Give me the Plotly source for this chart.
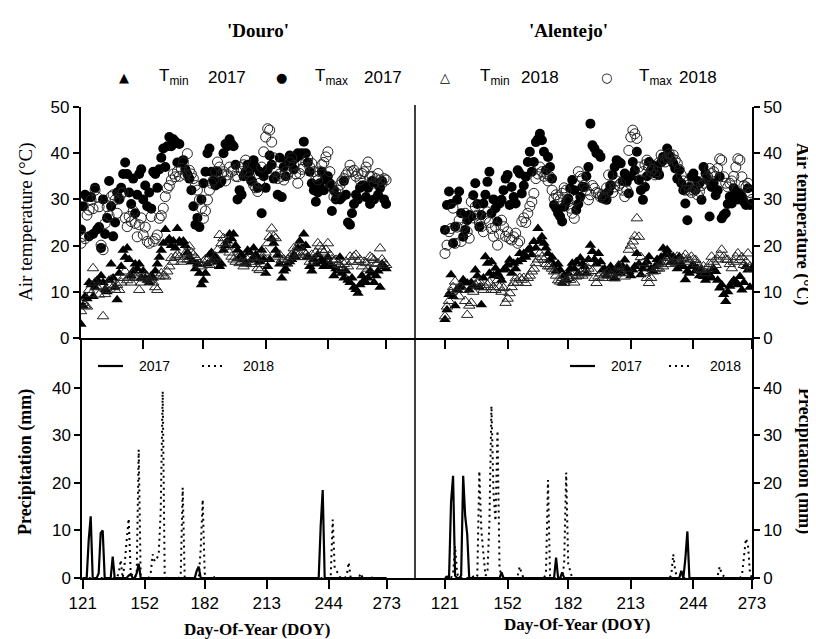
import plotly.graph_objects as go

# The page body has an 8px margin, so the figure is drawn 8px in from the corner.
OFF = 8
W, H = 816 - OFF, 639 - OFF

# ---------------- data ----------------
doy = list(range(121, 274))  # Day-of-year 121..273
xticks = [121, 152, 182, 213, 244, 273]
xtick_text = ["121", "152", "182", "213", "244", "273"]

douro_tmin_2017 = [
    3, 7, 9, 8.5, 12, 11.5, 9, 11, 12.5, 12,
    13.5, 12, 10.5, 10, 12.5, 16, 13, 11, 8.3, 14,
    15.5, 19, 17.5, 19.5, 17, 13.5, 14.5, 16, 15, 16,
    13, 14.5, 13, 12.5, 12, 13.5, 13, 14.5, 16, 17.5,
    19, 20.5, 23.5, 21, 21.5, 20, 21, 19.5, 23.7, 21,
    20.5, 21, 20, 18.5, 17.5, 16.5, 16.5, 15, 16, 14,
    11.5, 12.5, 14, 16, 18, 18.5, 17, 17.5, 16.5, 15.5,
    16, 19, 20, 21, 22.5, 21.5, 22.5, 20, 19, 17.5,
    18, 17, 16, 19, 18.5, 17, 19.5, 18, 17.5, 16.5,
    19, 17, 14, 15.5, 17, 21.5, 20.5, 19, 18, 16,
    13, 14.5, 15, 16, 16.5, 17, 18, 17.5, 19.5, 21,
    19.5, 22.5, 20, 17.5, 15.5, 14.5, 17, 16, 18, 16.5,
    17, 15.5, 16, 17.5, 16, 15.5, 13.5, 15, 14.5, 17.5,
    14, 13, 14.5, 12.5, 12, 13, 11, 10.5, 9.7, 11.5,
    13.5, 12.5, 12, 13, 14.5, 14, 12, 13.5, 14.5, 11,
    16, 15.5, 15,
]
douro_tmax_2017 = [
    23.5, 28.5, 31, 30.5, 22, 30.5, 22.5, 32.5, 23.5, 24,
    19.5, 30, 22.5, 26, 34, 28.5, 22, 25, 31.5, 30,
    32.5, 35.5, 38, 35.5, 31.5, 29, 34.5, 27, 31, 35.5,
    36.5, 30, 33, 28.5, 31.5, 28, 36, 35.5, 32.5, 36.5,
    39, 41, 37, 41.5, 43.5, 41.5, 43, 42.5, 38, 42,
    38, 38.5, 36.5, 35.5, 34.5, 32, 28.5, 24.5, 26, 24,
    30, 33.5, 36, 40, 41, 36, 34, 33, 36, 33.5,
    34, 40, 42, 41.5, 43, 42, 41.5, 37.5, 30, 32,
    31, 35, 36, 37.5, 36, 34, 38.5, 37, 32.5, 36,
    27, 35, 32.5, 36.5, 39.5, 37.5, 34.5, 35, 31, 39,
    30.5, 37, 35, 38.5, 39.5, 38, 36.5, 39, 40, 39.5,
    40, 42.5, 40, 38, 36, 33.5, 32, 29.5, 31.5, 33.5,
    36, 32, 34.5, 35, 33.5, 27.5, 32, 30, 30.5, 30,
    30.5, 34, 31, 25, 24.5, 27, 29, 31, 30, 32.5,
    33, 33, 30.5, 32.5, 29, 34, 30, 33.5, 31, 32.5,
    34, 30, 29,
]
douro_tmin_2018 = [
    5.8, 7.6, 7, 6.8, 10.4, 9.5, 15.1, 12, 11, 9.4,
    11.2, 4.7, 9.5, 10.4, 11.5, 12.6, 11, 10.4, 11.5, 10.4,
    12, 13, 14.4, 12.5, 13.3, 12, 14, 13, 13.3, 10.4,
    12, 12.9, 13.5, 13.3, 12.5, 12.9, 12, 11, 10.4, 13.3,
    14, 13.5, 13.3, 14.4, 15.5, 17.3, 16.5, 17.6, 18, 17.6,
    16.5, 17, 18.3, 17, 19.8, 18.5, 18, 17.5, 16.9, 16,
    15.5, 16.5, 17, 16.9, 15.8, 16.5, 17, 17.6, 19, 22.3,
    20.5, 21.6, 20.5, 19.8, 18.5, 17.6, 17, 16.5, 17.3, 16.2,
    16.5, 15.5, 16.2, 16.9, 17.5, 16, 17.3, 16.5, 15.1, 14.7,
    16, 17.3, 18.5, 20.5, 21.9, 23.7, 22, 21.6, 17.6, 18,
    16.9, 17, 16.2, 17, 17.5, 18, 19.4, 18.5, 19.8, 18.3,
    17.5, 18.7, 18, 17.6, 16.5, 18, 17, 18.5, 20.5, 19.8,
    19, 18.5, 19.1, 20.5, 18, 17, 16.5, 16.9, 16, 15.8,
    15, 16, 16.5, 15.5, 17.6, 16.5, 17.6, 18, 16.5, 16.9,
    15.5, 16.5, 16.2, 15, 17.6, 17.3, 16.9, 16, 16.2, 19.4,
    17, 16.2, 15.8,
]
douro_tmax_2018 = [
    20.5, 22, 21.5, 26.6, 27.7, 29.9, 28, 32, 30.5, 28.4,
    20.1, 19.1, 24.8, 28.4, 26.5, 30.6, 31, 29.9, 27, 30.2,
    31.3, 31.5, 26, 24.1, 26.3, 25.2, 27.5, 24.8, 21.9, 24.5,
    26, 22.3, 24, 20.9, 20.5, 26.3, 20.9, 21.5, 22.3, 25.9,
    26.5, 28.1, 30.6, 32.4, 33, 34.2, 35.5, 34.9, 36, 35,
    36.7, 38, 35.3, 39.9, 36.3, 35.5, 34.5, 33, 32, 29.9,
    28.1, 25.9, 27.5, 29.9, 32, 33.5, 34.2, 36, 38.1, 37,
    35.5, 36, 34, 35.3, 37, 36, 36.3, 35, 34.9, 37,
    36, 37.5, 38.5, 36, 34.9, 34, 33.1, 32.5, 31.7, 33.5,
    37, 40.3, 43.5, 45.3, 45, 42.4, 39, 36, 34.5, 35.5,
    35, 34.2, 36, 35.3, 38.1, 39, 37.4, 35.5, 33.5, 35.6,
    36.5, 37, 38.1, 38.8, 37, 37.8, 36, 35, 34.2, 36,
    37.5, 38, 39.2, 40.3, 36, 33, 30.6, 31.5, 32, 33.1,
    34, 34.5, 35.3, 36, 37.4, 36, 36.3, 35, 35.5, 34.2,
    35.6, 36, 37, 38.1, 34.9, 35, 33.5, 34.5, 35.6, 34.2,
    33.5, 34.5, 34.2,
]

alentejo_tmin_2017 = [
    4, 6.1, 9.4, 13.7, 9, 7, 10.4, 11, 11.2, 12.6,
    12, 11.9, 10.4, 12, 11.2, 14.7, 13.5, 11, 7.2, 13,
    17.6, 16.2, 14, 16.5, 13.5, 15.1, 14, 13.3, 12.5, 14.7,
    15, 15.8, 16.9, 14, 16.2, 15, 16.5, 18.3, 17, 18.3,
    17.5, 19, 19.4, 18, 20.9, 19.5, 23.7, 21, 21.9, 20.5,
    19.5, 18.3, 16.9, 17.5, 15.8, 14.5, 16, 14.7, 11.9, 13.5,
    12.6, 14, 15, 16.2, 15, 16.5, 14, 17.3, 16, 15.5,
    14, 17, 20.1, 18.7, 17, 16, 18.3, 16.5, 14.7, 15,
    13.5, 14.7, 15.5, 14.4, 13, 14.5, 15.8, 14, 15.5, 16.9,
    15, 14.4, 13.5, 14.7, 15.5, 18.3, 16, 13.7, 15, 15.8,
    16.5, 17.6, 15, 14.5, 15.5, 17, 16.2, 17.5, 19.4, 18,
    19.1, 18, 16.5, 17.6, 16.2, 15, 17.6, 16, 15.5, 12.6,
    14.5, 14, 15.5, 15.8, 14.5, 15.1, 13.5, 14.4, 13.3, 12.5,
    14, 13.7, 13, 15, 14.4, 12.5, 10.8, 11.5, 9.4, 7.9,
    10, 11.2, 11.9, 12.5, 12.2, 11.5, 13.3, 10.4, 12, 15.5,
    14.7, 11, 15,
]
alentejo_tmax_2017 = [
    23.4, 28.8, 31.7, 29, 20.5, 24.1, 29.9, 31.7, 27, 21.9,
    23.4, 25.5, 26.6, 26.3, 30.9, 33.5, 29, 24.1, 26.6, 29.1,
    31, 33.8, 36, 27, 30, 28.1, 25.2, 29.1, 29.9, 32,
    34.5, 35.3, 28.8, 32.7, 30.5, 29.1, 36.3, 35.6, 31.3, 33,
    34.9, 38.1, 40.3, 36, 38.1, 42.4, 43, 44.2, 42.8, 40.3,
    36.3, 39.2, 37, 34.5, 28.8, 28.1, 27, 26.3, 25.2, 28.4,
    29.5, 30.2, 32.4, 34.2, 32, 27.7, 29, 30.6, 32.7, 32.7,
    35, 37, 46.4, 41.7, 41, 40, 39.9, 39.2, 30.2, 31,
    29.9, 31.7, 33, 35.3, 37, 38.5, 38.1, 37.8, 34, 35.6,
    33.8, 31.3, 35, 38.1, 36.3, 40.3, 34.2, 32, 29.9, 32.7,
    35, 38.1, 36.3, 37.4, 35.6, 36.5, 35.3, 38, 39.2, 38.8,
    41, 39.5, 38.5, 37.8, 36.7, 34.5, 36.3, 33.5, 32, 29.1,
    25.5, 32.7, 34.9, 35.6, 32, 34, 33.5, 29.9, 37, 35.6,
    34.2, 26.3, 32.7, 33.5, 30.9, 32, 34.9, 25.9, 26.6, 27,
    29, 30.6, 29.1, 32.4, 31.7, 30, 31.3, 30.6, 29.5, 28.8,
    32.4, 28.8, 29.1,
]
alentejo_tmin_2018 = [
    4.7, 6.8, 8, 10, 11, 12.2, 10.5, 9, 11, 10.4,
    8, 5, 7, 7.6, 10, 11.5, 12, 12.2, 11, 10.4,
    11, 11.5, 12, 10.4, 11, 10.4, 12.5, 11, 10, 10.8,
    7.6, 8.5, 9.7, 11, 11.9, 12.9, 12, 13, 12.6, 13,
    11.9, 13, 13.5, 14.4, 15, 16.2, 17, 18.3, 17.5, 16.9,
    16, 15.5, 15.5, 15, 14.4, 13.5, 12.5, 12.2, 13, 11.9,
    12.5, 13, 12.6, 13.5, 12, 13.3, 13.5, 14, 13.5, 14,
    14.4, 15, 16.2, 14.5, 13, 11.9, 13.3, 14, 13, 13.7,
    14, 14.4, 13.5, 13, 12.9, 14, 15.5, 14.5, 14, 13.3,
    15, 19.1, 20, 20.9, 22, 25.9, 21.9, 17.5, 16.2, 14,
    13, 11.9, 13, 14.4, 14.5, 15.1, 15, 16, 15.5, 16.5,
    17.3, 16.5, 16, 16.5, 17, 17.6, 16.5, 17, 17.3, 18,
    17, 16.5, 17.6, 17, 16.9, 16, 15, 14.7, 15.5, 14,
    15, 16, 17.6, 16.5, 15.8, 17, 18, 19.1, 17.6, 17,
    16.9, 16, 15.1, 16.5, 17.5, 18.3, 16.9, 17.5, 15.8, 16.5,
    18.3, 15.5, 15,
]
alentejo_tmax_2018 = [
    18.3, 20.1, 23, 23.7, 28.1, 20.5, 24, 25.5, 20.9, 24,
    27, 23, 21.6, 29.5, 26, 28.4, 26.6, 25, 24.1, 23,
    25.9, 27.3, 25, 23.7, 22, 24.1, 20.1, 22.5, 25.5, 24.1,
    22, 23, 21.5, 21.2, 21.9, 22.7, 20.5, 21, 25.2, 26,
    25, 27, 28.5, 29.5, 31.3, 34.5, 35.5, 37, 36, 35,
    35.6, 34, 34.9, 32, 30.2, 31, 30.5, 29.9, 31.3, 32.5,
    32, 29.5, 28.1, 27, 25.9, 30, 36, 35, 34.5, 33,
    32, 29.9, 31, 33, 32.4, 31.5, 31.3, 30.5, 31, 30.2,
    32.5, 35.3, 33, 31.5, 32.7, 34, 33, 33.5, 32, 30.6,
    32, 40.6, 43.5, 45, 44.2, 43.2, 37, 34.2, 36, 37.5,
    38.5, 37, 36, 36.5, 35.3, 36, 38, 39.6, 38.5, 38.1,
    39, 39.9, 39, 39.6, 38.5, 37.8, 36.5, 35.3, 34, 32,
    33, 32, 31.5, 32, 32.7, 31, 31.7, 33, 33.5, 34.5,
    35, 36.7, 35.6, 36, 35, 36.7, 38.8, 38.5, 34.9, 33.5,
    32.7, 33.5, 34, 35, 37, 38.8, 38.5, 34.9, 33, 32.7,
    33.5, 31.5, 30,
]

douro_prec_2017 = [
    0, 0, 0, 8, 13, 0, 0, 0, 1, 9.5,
    10, 0, 0, 0, 0, 4.5, 0, 0, 0, 0,
    0, 0, 0, 0.5, 0.8, 0, 0, 1, 3, 0,
    0, 0, 0, 0, 0, 0, 0, 0, 0, 0,
    0, 0, 0, 0, 0, 0, 0, 0, 0, 0,
    0, 0, 0, 0, 0, 0, 0, 1.5, 2.4, 0,
    0, 0, 0, 0, 0, 0, 0, 0, 0, 0,
    0, 0, 0, 0, 0, 0, 0, 0, 0, 0,
    0, 0, 0, 0, 0, 0, 0, 0, 0, 0,
    0, 0, 0, 0, 0, 0, 0, 0, 0, 0,
    0, 0, 0, 0, 0, 0, 0, 0, 0, 0,
    0, 0, 0, 0, 0, 0, 0, 0, 0, 11,
    18.5, 0, 0, 0, 0, 0, 0, 0, 0, 0,
    0, 0, 0, 0, 0, 0, 0, 0, 0, 0,
    0, 0, 0, 0, 0, 0, 0, 0, 0, 0,
    0, 0, 0,
]
douro_prec_2018 = [
    0, 0, 0, 0, 0, 0, 0, 0, 0, 0,
    0, 0, 0, 0, 0, 0, 0, 0, 1, 3.8,
    0, 3, 8, 12.5, 1, 0.5, 0, 1, 27, 0,
    0, 0, 0, 0, 1, 5, 3.5, 4, 5, 14,
    39.3, 0.5, 0, 0, 0, 0, 0, 0, 0, 0.5,
    19, 0, 0, 0, 0, 0, 0, 0, 0, 6,
    16.5, 1, 0, 0, 0, 0, 0.2, 0, 0, 0,
    0, 0, 0, 0, 0, 0, 0, 0, 0, 0,
    0, 0, 0, 0, 0, 0, 0, 0, 0, 0,
    0, 0, 0, 0, 0, 0, 0, 0, 0, 0,
    0, 0, 0, 0, 0, 0, 0, 0, 0, 0,
    0, 0, 0, 0, 0, 0, 0, 0, 0, 0,
    0, 0, 0, 0, 0.3, 12.3, 2, 1.5, 0.5, 0,
    0, 0, 0.5, 3.3, 0, 0, 0, 0, 0, 1,
    0, 0, 0, 0, 0.3, 0, 0, 0, 0, 0,
    0, 0, 0,
]
alentejo_prec_2017 = [
    0, 0.3, 0, 16, 21.5, 0.5, 0, 0, 0.5, 21.5,
    13, 9.2, 0, 0, 0, 0, 0, 0, 0, 0,
    0, 0, 0, 0, 0, 0, 0, 0, 1.2, 0,
    0, 0, 0, 0, 0, 0, 0, 0, 0, 0,
    0, 0, 0, 0, 0, 0, 0, 0, 0, 0,
    0, 0, 0, 0, 0, 4.3, 0, 0, 1.2, 0,
    0, 0, 0, 0, 0, 0, 0, 0, 0, 0,
    0, 0, 0, 0, 0, 0, 0, 0, 0, 0,
    0, 0, 0, 0, 0, 0, 0, 0, 0, 0,
    0, 0, 0, 0, 0, 0, 0, 0, 0, 0,
    0, 0, 0, 0, 0, 0, 0, 0, 0, 0,
    0, 0, 0, 0, 0, 0, 0, 1.5, 0, 4,
    9.8, 0, 0, 0, 0, 0, 0, 0, 0, 0,
    0, 0, 0, 0, 0, 0, 0, 0, 0, 0,
    0, 0, 0, 0, 0, 0, 0, 0, 0, 0,
    0, 0, 0,
]
alentejo_prec_2018 = [
    0, 0, 0, 0, 1, 6.7, 1, 0, 0, 0,
    0, 0, 0, 0, 0.3, 0, 0.5, 22.5, 10, 5,
    0.5, 1, 12, 36.2, 18, 12, 31, 2, 0.5, 0,
    0, 0, 0, 0, 0, 0, 0.5, 2.4, 0.8, 0,
    0, 0, 0, 0, 0, 0, 0, 0, 0, 0,
    1, 20.6, 0.5, 0, 0, 0, 0, 0, 0, 3,
    22.2, 3, 1.5, 0, 0, 0, 0, 0, 0, 0,
    0, 0, 0, 0, 0, 0, 0, 0, 0, 0,
    0, 0, 0, 0, 0, 0, 0, 0, 0, 0,
    0, 0, 0, 0, 0, 0, 0, 0, 0, 0,
    0, 0, 0, 0, 0, 0, 0, 0, 0, 0,
    0, 0, 0.5, 5, 1.5, 0, 0, 0, 0, 0,
    0, 0, 0, 0, 0, 0, 0, 0, 0, 0,
    0, 0, 0, 0, 0, 0.5, 2.4, 0.8, 0.3, 0,
    0, 0, 0, 0, 0, 0, 0, 0.5, 4, 8.3,
    7, 1, 0,
]

# ---------------- helpers (page pixel -> paper fraction) ----------------
def px(x):
    return (x - OFF) / W


def py(y):
    return 1 - (y - OFF) / H


SANS = "Liberation Sans, Arial, sans-serif"
SERIF = "Liberation Serif, Times New Roman, serif"

fig = go.Figure()

def temp_traces(tmin17, tmax17, tmin18, tmax18, xa, ya):
    fig.add_trace(go.Scatter(x=doy, y=tmin17, mode="markers", xaxis=xa, yaxis=ya,
                             marker=dict(symbol="triangle-up", size=10, color="black"),
                             showlegend=False))
    fig.add_trace(go.Scatter(x=doy, y=tmax17, mode="markers", xaxis=xa, yaxis=ya,
                             marker=dict(symbol="circle", size=10, color="black"),
                             showlegend=False))
    fig.add_trace(go.Scatter(x=doy, y=tmin18, mode="markers", xaxis=xa, yaxis=ya,
                             marker=dict(symbol="triangle-up-open", size=10, color="#222",
                                         line=dict(width=1)),
                             showlegend=False))
    fig.add_trace(go.Scatter(x=doy, y=tmax18, mode="markers", xaxis=xa, yaxis=ya,
                             marker=dict(symbol="circle-open", size=10, color="#222",
                                         line=dict(width=1)),
                             showlegend=False))


def prec_traces(p17, p18, xa, ya):
    fig.add_trace(go.Scatter(x=doy, y=p18, mode="lines", xaxis=xa, yaxis=ya,
                             line=dict(color="black", width=2, dash="2px,4px"),
                             showlegend=False))
    fig.add_trace(go.Scatter(x=doy, y=p17, mode="lines", xaxis=xa, yaxis=ya,
                             line=dict(color="black", width=2.2),
                             showlegend=False))


temp_traces(douro_tmin_2017, douro_tmax_2017, douro_tmin_2018, douro_tmax_2018, "x", "y")
temp_traces(alentejo_tmin_2017, alentejo_tmax_2017, alentejo_tmin_2018, alentejo_tmax_2018, "x2", "y2")
prec_traces(douro_prec_2017, douro_prec_2018, "x3", "y3")
prec_traces(alentejo_prec_2017, alentejo_prec_2018, "x4", "y4")

axis_common = dict(showgrid=False, zeroline=False, showline=True, linecolor="black",
                   linewidth=1.5, ticks="outside", tickcolor="black", tickwidth=1.5,
                   automargin=False,
                   tickfont=dict(family=SANS, size=17, color="black"))

fig.update_layout(
    width=W, height=H, autosize=False,
    margin=dict(l=0, r=0, t=0, b=0, pad=0, autoexpand=False),
    paper_bgcolor="white", plot_bgcolor="rgba(0,0,0,0)",
    showlegend=False,
    xaxis=dict(domain=[px(80.5), px(415)], range=[120.75, 287.4], anchor="y",
               tickvals=xticks, showticklabels=False, ticklen=9, **axis_common),
    yaxis=dict(domain=[py(338), py(107)], range=[0, 50], anchor="x",
               tickvals=[0, 10, 20, 30, 40, 50], ticklen=6, side="left", **axis_common),
    xaxis2=dict(domain=[px(415), px(752)], range=[106.15, 273], anchor="y2",
                tickvals=xticks, showticklabels=False, ticklen=9, **axis_common),
    yaxis2=dict(domain=[py(338), py(107)], range=[0, 50], anchor="x2",
                tickvals=[0, 10, 20, 30, 40, 50], ticklen=6, side="right", **axis_common),
    xaxis3=dict(domain=[px(82), px(415)], range=[120.65, 287.15], anchor="y3",
                tickvals=xticks, ticktext=xtick_text, ticklen=9, **axis_common),
    yaxis3=dict(domain=[py(578), py(338)], range=[0, 50.5], anchor="x3",
                tickvals=[0, 10, 20, 30, 40], ticklen=6, side="left", **axis_common),
    xaxis4=dict(domain=[px(415), px(752)], range=[106.15, 273], anchor="y4",
                tickvals=xticks, ticktext=xtick_text, ticklen=9, **axis_common),
    yaxis4=dict(domain=[py(578), py(338)], range=[0, 50.5], anchor="x4",
                tickvals=[0, 10, 20, 30, 40], ticklen=6, side="right", **axis_common),
)

# vertical divider between the two sites
fig.add_shape(type="line", xref="paper", yref="paper",
              x0=px(415), x1=px(415), y0=py(578), y1=py(105),
              line=dict(color="black", width=1.5))

def ann(text, x, y, size, family=SERIF, angle=0, xanchor="center", yanchor="middle"):
    fig.add_annotation(text=text, x=px(x), y=py(y), xref="paper", yref="paper",
                       showarrow=False, textangle=angle, xanchor=xanchor, yanchor=yanchor,
                       font=dict(family=family, size=size, color="black"))

# panel titles
ann("<b>'Douro'</b>", 258, 30, 19)
ann("<b>'Alentejo'</b>", 568, 30, 19)

# axis titles
ann("Air temperature (°C)", 26, 222, 19, angle=-90)
ann("<b>Precipitation (mm)</b>", 25, 462, 18, angle=-90)
ann("<b>Air temperature (°C)</b>", 803, 224, 18, angle=90)
ann("<b>Precipitation (mm)</b>", 805, 461, 18, angle=90)
ann("<b>Day-Of-Year (DOY)</b>", 257, 629, 17)
ann("<b>Day-Of-Year (DOY)</b>", 577, 624, 17)

# top legend
legend_items = [
    ("▲", 124, "min", "2017", 157, 206),
    ("●", 281, "max", "2017", 313, 362),
    ("△", 445, "min", "2018", 478, 519),
    ("○", 606, "max", "2018", 637, 677),
]
for sym, sx, sub, yr, tx, yx in legend_items:
    ann(sym, sx, 77, 13, family="DejaVu Sans")
    ann("T<sub>" + sub + "</sub>", tx, 77, 17, family=SANS, xanchor="left")
    ann(yr, yx, 77, 17, family=SANS, xanchor="left")

# precipitation legends
for (x0, x1, dash, label, lx) in [
    (98, 123, "solid", "2017", 137), (202, 225, "2px,4px", "2018", 241),
    (570, 595, "solid", "2017", 609), (669, 693, "2px,4px", "2018", 708),
]:
    fig.add_shape(type="line", xref="paper", yref="paper", x0=px(x0), x1=px(x1),
                  y0=py(366), y1=py(366), line=dict(color="black", width=2.2, dash=dash))
    ann(label, lx, 366, 14, family=SANS, xanchor="left")

fig.write_html("out.html")
